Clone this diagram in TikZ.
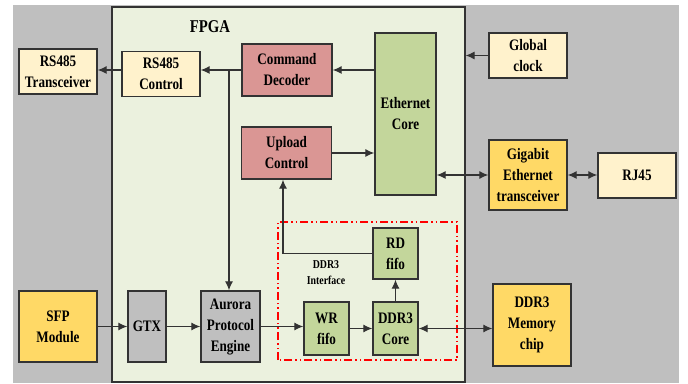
\documentclass[tikz,border=0pt]{standalone}
\usepackage{fontspec}
\setmainfont{Liberation Serif}[FakeStretch=0.82]
\usetikzlibrary{arrows.meta,positioning,calc}
\definecolor{bggray}{HTML}{BFBFBF}
\definecolor{fpgagreen}{HTML}{EBF1DE}
\definecolor{creambox}{HTML}{FFF2CC}
\definecolor{pinkbox}{HTML}{DA9694}
\definecolor{greenbox}{HTML}{C3D69B}
\definecolor{goldbox}{HTML}{FFD966}
\definecolor{linegray}{HTML}{333333}
\begin{document}
\begin{tikzpicture}[
  x=1pt, y=1pt, font=\bfseries\fontsize{16}{21}\selectfont, >={Latex[length=9pt,width=8pt]},
  blk/.style={rectangle,draw=linegray,line width=1.3pt,align=center,inner sep=1pt},
  cream/.style={blk,fill=creambox,minimum width=78pt,minimum height=45pt},
  pink/.style={blk,fill=pinkbox,minimum width=90pt,minimum height=52pt},
  grn/.style={blk,fill=greenbox,minimum width=45pt,minimum height=52pt},
  gold/.style={blk,fill=goldbox,minimum width=78pt},
  gry/.style={blk,fill=bggray,minimum height=71pt},
  arr/.style={->,draw=linegray,line width=1.2pt},
  darr/.style={<->,draw=linegray,line width=1.2pt}]
\useasboundingbox[fill=white] (0,0) rectangle (688,383);
\fill[bggray] (13,0) rectangle (679,378);
\node[rectangle,draw=linegray,line width=1.2pt,fill=fpgagreen,minimum width=353pt,minimum height=375pt,inner sep=0pt] (fpga) at (288.5,188.5) {};
\node (fpgalbl) at (210,356) {\fontsize{18}{21}\selectfont FPGA};
\draw[red,line width=1.5pt,dash pattern=on 8pt off 3pt on 1.5pt off 3pt on 1.5pt off 3pt] (278,23) rectangle (457,161);
\node[align=center,font=\bfseries\fontsize{12}{16}\selectfont] (ifacelbl) at (326,110) {DDR3\\Interface};
\node[cream] (rst) at (58,311.5) {RS485\\Transceiver};
\node[cream] (rsc) at (161,309) {RS485\\Control};
\node[pink] (cmd) at (287,313) {Command\\Decoder};
\node[pink] (upl) at (286.5,230) {Upload\\Control};
\node[grn,fill=greenbox,minimum width=61pt,minimum height=162pt] (eth) at (405.5,269) {Ethernet\\Core};
\node[cream] (clk) at (528,327.5) {Global\\clock};
\node[gold,minimum height=70pt] (gig) at (528,208) {Gigabit\\Ethernet\\transceiver};
\node[cream] (rj) at (637,207.5) {RJ45};
\node[gold,minimum height=71pt] (sfp) at (58,56.5) {SFP\\Module};
\node[gry,minimum width=38pt] (gtx) at (147,56.5) {GTX};
\node[gry,minimum width=59pt] (aur) at (230.5,56.5) {Aurora\\Protocol\\Engine};
\node[grn,minimum height=53pt] (wr) at (326.5,54.5) {WR\\fifo};
\node[grn,minimum height=53pt] (core) at (395.5,54.5) {DDR3\\Core};
\node[grn,minimum height=51pt] (rd) at (395.5,129.5) {RD\\fifo};
\node[gold,minimum height=82pt] (mem) at (532,58) {DDR3\\Memory\\chip};
\draw[arr] (eth.west |- cmd) -- (cmd.east);
\draw[arr] (cmd.west) -- (rsc.east |- cmd);
\draw[arr] (rsc.west |- cmd) -- (rst.east |- cmd);
\draw[arr] (229,313) -- (229,0 |- aur.north);
\draw[arr] (upl.east) -- (eth.west |- upl);
\draw[arr] (clk.west) -- (fpga.east |- clk);
\draw[darr] (eth.east |- gig) -- (gig.west);
\draw[darr] (gig.east) -- (rj.west |- gig);
\draw[arr] (sfp.east) -- (gtx.west);
\draw[arr] (gtx.east) -- (aur.west);
\draw[arr] (aur.east) -- (wr.west |- aur);
\draw[arr] (wr.east) -- (core.west);
\draw[darr] (core.east) -- (mem.west |- core);
\draw[arr] (core.north) -- (rd.south);
\draw[arr] (rd.west) -| (283,0 |- upl.south);
\end{tikzpicture}
\end{document}
